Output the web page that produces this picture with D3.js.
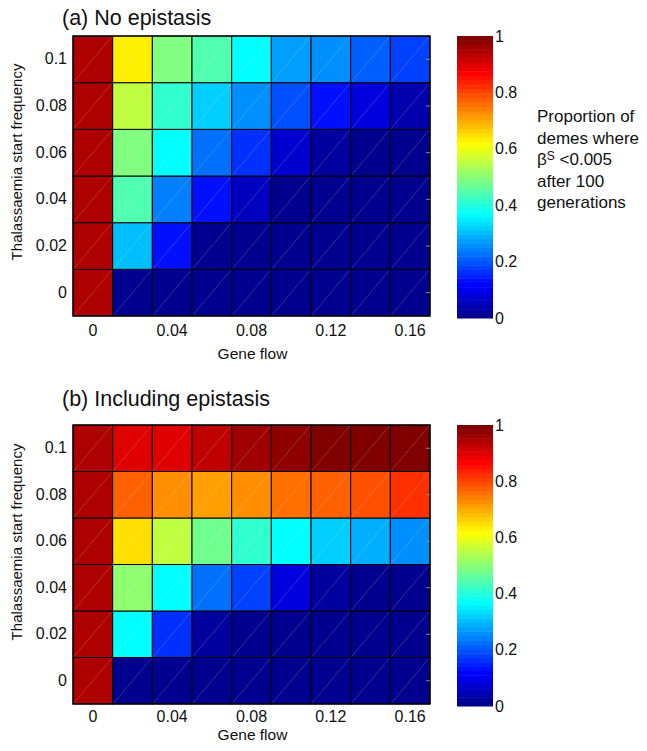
<!DOCTYPE html>
<html>
<head>
<meta charset="utf-8">
<script src="https://cdn.jsdelivr.net/npm/d3@7"></script>
<style>
  html, body { margin: 0; padding: 0; background: #fff; }
  svg { display: block; font-family: "Liberation Sans", Arial, sans-serif; }
</style>
</head>
<body>
<svg id="chart" width="647" height="751"></svg>
<script>
// ---- data ----
const geneFlow = [0, 0.02, 0.04, 0.06, 0.08, 0.10, 0.12, 0.14, 0.16];
const thalFreq = [0, 0.02, 0.04, 0.06, 0.08, 0.1];
const xTickLabels = ["0", "0.04", "0.08", "0.12", "0.16"];
const yTickLabels = ["0", "0.02", "0.04", "0.06", "0.08", "0.1"];
const cbTicks = [0, 0.2, 0.4, 0.6, 0.8, 1];

// rows listed from thal freq 0 (bottom) to 0.1 (top); columns by gene flow
const noEpistasis = [
  [0.95, 0.00, 0.00, 0.00, 0.00, 0.00, 0.00, 0.00, 0.00],
  [0.95, 0.31, 0.125, 0.015, 0.005, 0.005, 0.005, 0.005, 0.005],
  [0.95, 0.44, 0.235, 0.14, 0.058, 0.01, 0.005, 0.005, 0.003],
  [0.95, 0.49, 0.36, 0.225, 0.16, 0.075, 0.025, 0.015, 0.01],
  [0.95, 0.56, 0.42, 0.325, 0.25, 0.19, 0.14, 0.092, 0.042],
  [0.95, 0.64, 0.49, 0.44, 0.36, 0.28, 0.25, 0.21, 0.175]
];
const withEpistasis = [
  [0.95, 0.00, 0.00, 0.00, 0.00, 0.00, 0.00, 0.00, 0.00],
  [0.95, 0.36, 0.16, 0.03, 0.015, 0.01, 0.01, 0.01, 0.01],
  [0.95, 0.50, 0.36, 0.225, 0.175, 0.092, 0.025, 0.015, 0.012],
  [0.95, 0.655, 0.547, 0.475, 0.41, 0.36, 0.325, 0.29, 0.265],
  [0.95, 0.775, 0.734, 0.718, 0.734, 0.75, 0.775, 0.79, 0.825],
  [0.95, 0.90, 0.90, 0.93, 0.96, 0.975, 0.99, 0.99, 0.99]
];

// ---- MATLAB jet(64) colormap ----
function jetU(j) {
  if (j < 1 || j > 47) return 0;
  if (j <= 16) return j / 16;
  if (j <= 31) return 1;
  return (48 - j) / 16;
}
function jet64(v) {
  const k = Math.max(1, Math.min(64, Math.floor(v * 64) + 1));
  const r = jetU(k - 24), g = jetU(k - 8), b = jetU(k + 8);
  return d3.rgb(Math.round(r * 255), Math.round(g * 255), Math.round(b * 255)).toString();
}

const svg = d3.select("#chart");
const left = 73, right = 430;
const cbLeft = 457, cbRight = 493;
const FONT = "Liberation Sans, Arial, sans-serif";

function panel(opts) {
  const { top, bottom, values, title, titleY, xTickY, xLabelY, yLabelY, legend } = opts;
  const g = svg.append("g");

  const x = d3.scaleBand().domain(geneFlow).range([left, right]);
  const y = d3.scaleBand().domain(thalFreq.slice().reverse()).range([top, bottom]);

  const cells = [];
  values.forEach((row, ri) => row.forEach((v, ci) => cells.push({ gf: geneFlow[ci], tf: thalFreq[ri], v })));

  g.selectAll("rect.cell").data(cells).join("rect")
    .attr("class", "cell")
    .attr("x", d => x(d.gf))
    .attr("y", d => y(d.tf))
    .attr("width", x.bandwidth())
    .attr("height", y.bandwidth())
    .attr("fill", d => jet64(d.v))
    .attr("stroke", "#000")
    .attr("stroke-width", 1);

  // faint diagonal rendering artefacts
  g.selectAll("line.diag").data(cells).join("line")
    .attr("class", "diag")
    .attr("x1", d => x(d.gf) + 1)
    .attr("y1", d => y(d.tf) + y.bandwidth() - 1)
    .attr("x2", d => x(d.gf) + x.bandwidth() - 1)
    .attr("y2", d => y(d.tf) + 1)
    .attr("stroke", "#fff")
    .attr("stroke-opacity", 0.3)
    .attr("stroke-width", 0.6);

  // border
  g.append("rect").attr("x", left).attr("y", top)
    .attr("width", right - left).attr("height", bottom - top)
    .attr("fill", "none").attr("stroke", "#000").attr("stroke-width", 1.2);

  // small right-side ticks
  g.selectAll("line.rtick").data(thalFreq).join("line")
    .attr("class", "rtick")
    .attr("x1", right - 4).attr("x2", right)
    .attr("y1", d => y(d) + y.bandwidth() / 2)
    .attr("y2", d => y(d) + y.bandwidth() / 2)
    .attr("stroke", "#888").attr("stroke-width", 1);

  // x axis
  const xAxis = d3.axisBottom(x)
    .tickValues(geneFlow.filter((d, i) => i % 2 === 0))
    .tickFormat((d, i) => xTickLabels[i])
    .tickSize(0).tickPadding(0);
  const xg = g.append("g").attr("transform", `translate(0,${xTickY})`).call(xAxis);
  xg.select(".domain").remove();
  xg.selectAll("text").attr("dy", 0).attr("y", 0).attr("font-size", 16)
    .attr("font-family", FONT).attr("fill", "#111");

  g.append("text").attr("x", (left + right) / 2 + 1).attr("y", xLabelY)
    .attr("text-anchor", "middle").attr("font-size", 15.5).attr("fill", "#111")
    .text("Gene flow");

  // y axis
  const yAxis = d3.axisLeft(y)
    .tickFormat(d => yTickLabels[thalFreq.indexOf(d)])
    .tickSize(0).tickPadding(6);
  const yg = g.append("g").attr("transform", `translate(${left},0)`).call(yAxis);
  yg.select(".domain").remove();
  yg.selectAll("text").attr("font-size", 16)
    .attr("font-family", FONT).attr("fill", "#111");

  g.append("text")
    .attr("transform", `translate(22,${yLabelY}) rotate(-90)`)
    .attr("text-anchor", "middle").attr("font-size", 15).attr("fill", "#111")
    .text("Thalassaemia start frequency");

  // title
  g.append("text").attr("x", 62).attr("y", titleY)
    .attr("font-size", 21.5).attr("fill", "#111").text(title);

  // colorbar
  const c = d3.scaleLinear().domain([0, 1]).range([bottom + 2, top]);
  const steps = d3.range(64);
  g.selectAll("rect.cb").data(steps).join("rect")
    .attr("class", "cb")
    .attr("x", cbLeft)
    .attr("width", cbRight - cbLeft)
    .attr("y", s => c((s + 1) / 64))
    .attr("height", s => c(s / 64) - c((s + 1) / 64) + 0.5)
    .attr("fill", s => jet64((s + 0.5) / 64));

  const cAxis = d3.axisRight(c).tickValues(cbTicks)
    .tickFormat(d3.format("~g")).tickSize(0).tickPadding(2);
  const cg = g.append("g").attr("transform", `translate(${cbRight},0)`).call(cAxis);
  cg.select(".domain").remove();
  cg.selectAll("text").attr("font-size", 16)
    .attr("font-family", FONT).attr("fill", "#111");

  if (legend) {
    const lx = 537;
    const lines = ["Proportion of", "demes where", null, "after 100", "generations"];
    lines.forEach((t, i) => {
      const ty = 122 + i * 21.5;
      const tx = g.append("text").attr("x", lx).attr("y", ty)
        .attr("font-size", 17).attr("fill", "#111");
      if (t) tx.text(t);
      else {
        tx.append("tspan").text("β");
        tx.append("tspan").attr("dy", -5).attr("font-size", 12).text("S");
        tx.append("tspan").attr("dy", 5).text(" <0.005");
      }
    });
  }
}

panel({ top: 36, bottom: 316, values: noEpistasis, title: "(a) No epistasis",
  titleY: 25, xTickY: 336, xLabelY: 359, yLabelY: 162, legend: true });
panel({ top: 425, bottom: 704, values: withEpistasis, title: "(b) Including epistasis",
  titleY: 406, xTickY: 722, xLabelY: 740, yLabelY: 542, legend: false });
</script>
</body>
</html>
